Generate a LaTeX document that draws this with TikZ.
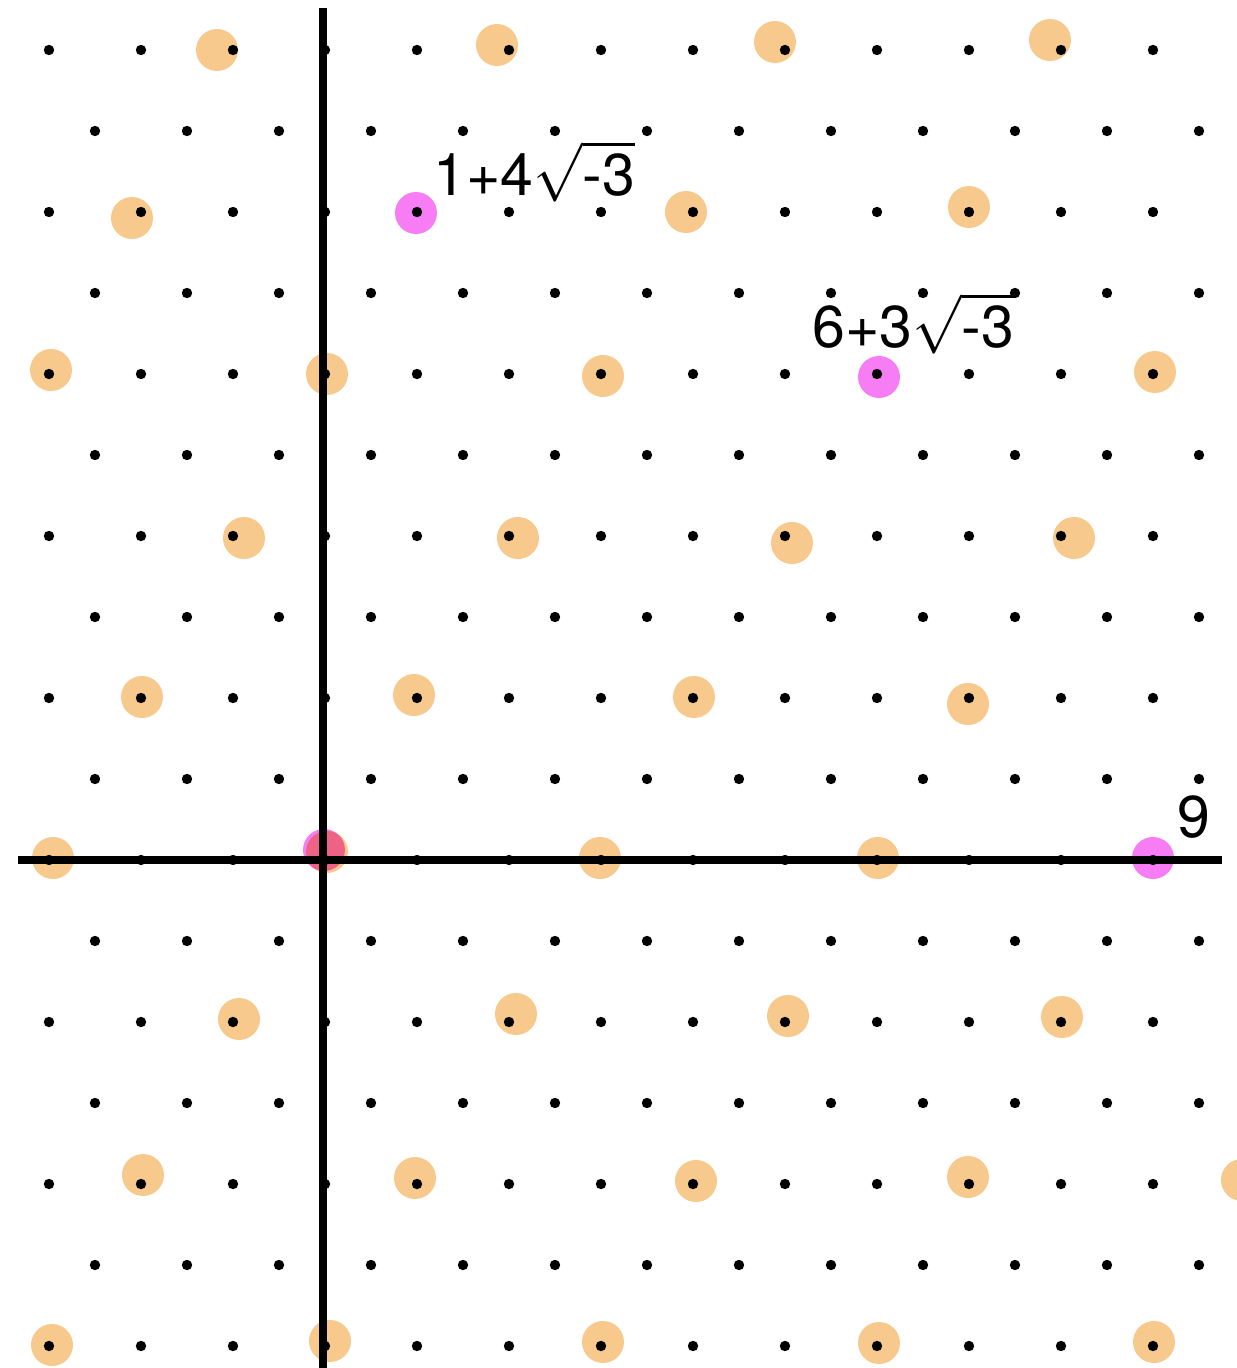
\RequirePackage{fix-cm}
\documentclass[tikz,border=0pt]{standalone}
\usepackage{fontspec}
\setmainfont{TeX Gyre Heros}
\usepackage{tikz}
\usetikzlibrary{calc}
\definecolor{ringorange}{RGB}{247,201,140}
\definecolor{ringpink}{RGB}{246,125,243}

\tikzset{
  hit/.style={fill=ringorange},
  gen/.style={fill=ringpink, blend mode=multiply},
  latdot/.style={fill=black},
  axisline/.style={line width=4pt},
  lbl/.style={inner sep=0pt, anchor=base west, font=\fontsize{29.5}{32}\selectfont}
}

\begin{document}
\begin{tikzpicture}[x=46pt, y=40.5pt]
  \clip (-3.5326,-6.2716) rectangle (9.9130,10.6173);
  % the ideal: orange discs (a, row, shift)
  \foreach \a/\r/\dx/\dy in {
      -1/10/-8/0, 2/10/-6/2.5, 5/10/-5/4, 8/10/-5.5/5,
      -2/8/-4.5/-3, 4/8/-3.5/0, 7/8/0/2.5,
      -3/6/1/2, 0/6/1/0, 3/6/1/-1, 9/6/1/1,
      -1/4/5.5/-1, 2/4/4.5/-1, 5/4/3.5/-3.5, 8/4/6.5/-1,
      -2/2/0.5/0.5, 1/2/-1.5/1.5, 4/2/0.5/0.5, 7/2/-0.5/-3,
      -3/0/2/1, 0/0/1/4, 3/0/-0.5/1, 6/0/0.5/1,
      -1/-2/3/1.5, 2/-2/3.5/4, 5/-2/1.5/3, 8/-2/0.5/2.5,
      -2/-4/1/4.5, 1/-4/-1/3, 4/-4/1.5/1.5, 7/-4/-0.5/3.5, 10/-4/-1.5/2,
      -3/-6/1.5/0.5, 0/-6/2.5/2.5, 3/-6/1/2, 6/-6/1/1.5, 9/-6/0.5/2} {
    \fill[hit, shift={(\dx pt,\dy pt)}] (\a,\r) circle (10.5pt);
  }
  % generators
  \coordinate (z0) at (0,0);
  \coordinate (z1) at (1,8);
  \coordinate (z2) at (6,6);
  \coordinate (z3) at (9,0);
  \fill[gen] ($(z0)+(-0.5pt,5pt)$) circle (10.5pt);
  \fill[gen] ($(z1)+(-0.5pt,-0.5pt)$) circle (10.5pt);
  \fill[gen] ($(z2)+(1pt,-1.5pt)$) circle (10.5pt);
  \fill[gen] ($(z3)+(0pt,1pt)$) circle (10.5pt);
  % axes
  \draw[axisline] (-0.022,10.52) -- (-0.022,-6.3);
  \draw[axisline] (-3.337,0) -- (9.75,0);
  % lattice points
  \foreach \r in {-6,-4,...,10}
    \foreach \a in {-3,...,9}
      \fill[latdot] (\a,\r) circle (2.6pt);
  \foreach \r in {-5,-3,...,9}
    \foreach \a in {-2.5,-1.5,...,9.5}
      \fill[latdot] (\a,\r) circle (2.6pt);
  % labels
  \node[lbl] (l1) at ($(z1)+(8pt,8.5pt)$) {1+4$\sqrt{\mbox{-3}}$};
  \node[lbl] (l2) at ($(z2)+(-32.5pt,13.5pt)$) {6+3$\sqrt{\mbox{-3}}$};
  \node[lbl] (l3) at ($(z3)+(12pt,11.5pt)$) {9};
\end{tikzpicture}
\end{document}
